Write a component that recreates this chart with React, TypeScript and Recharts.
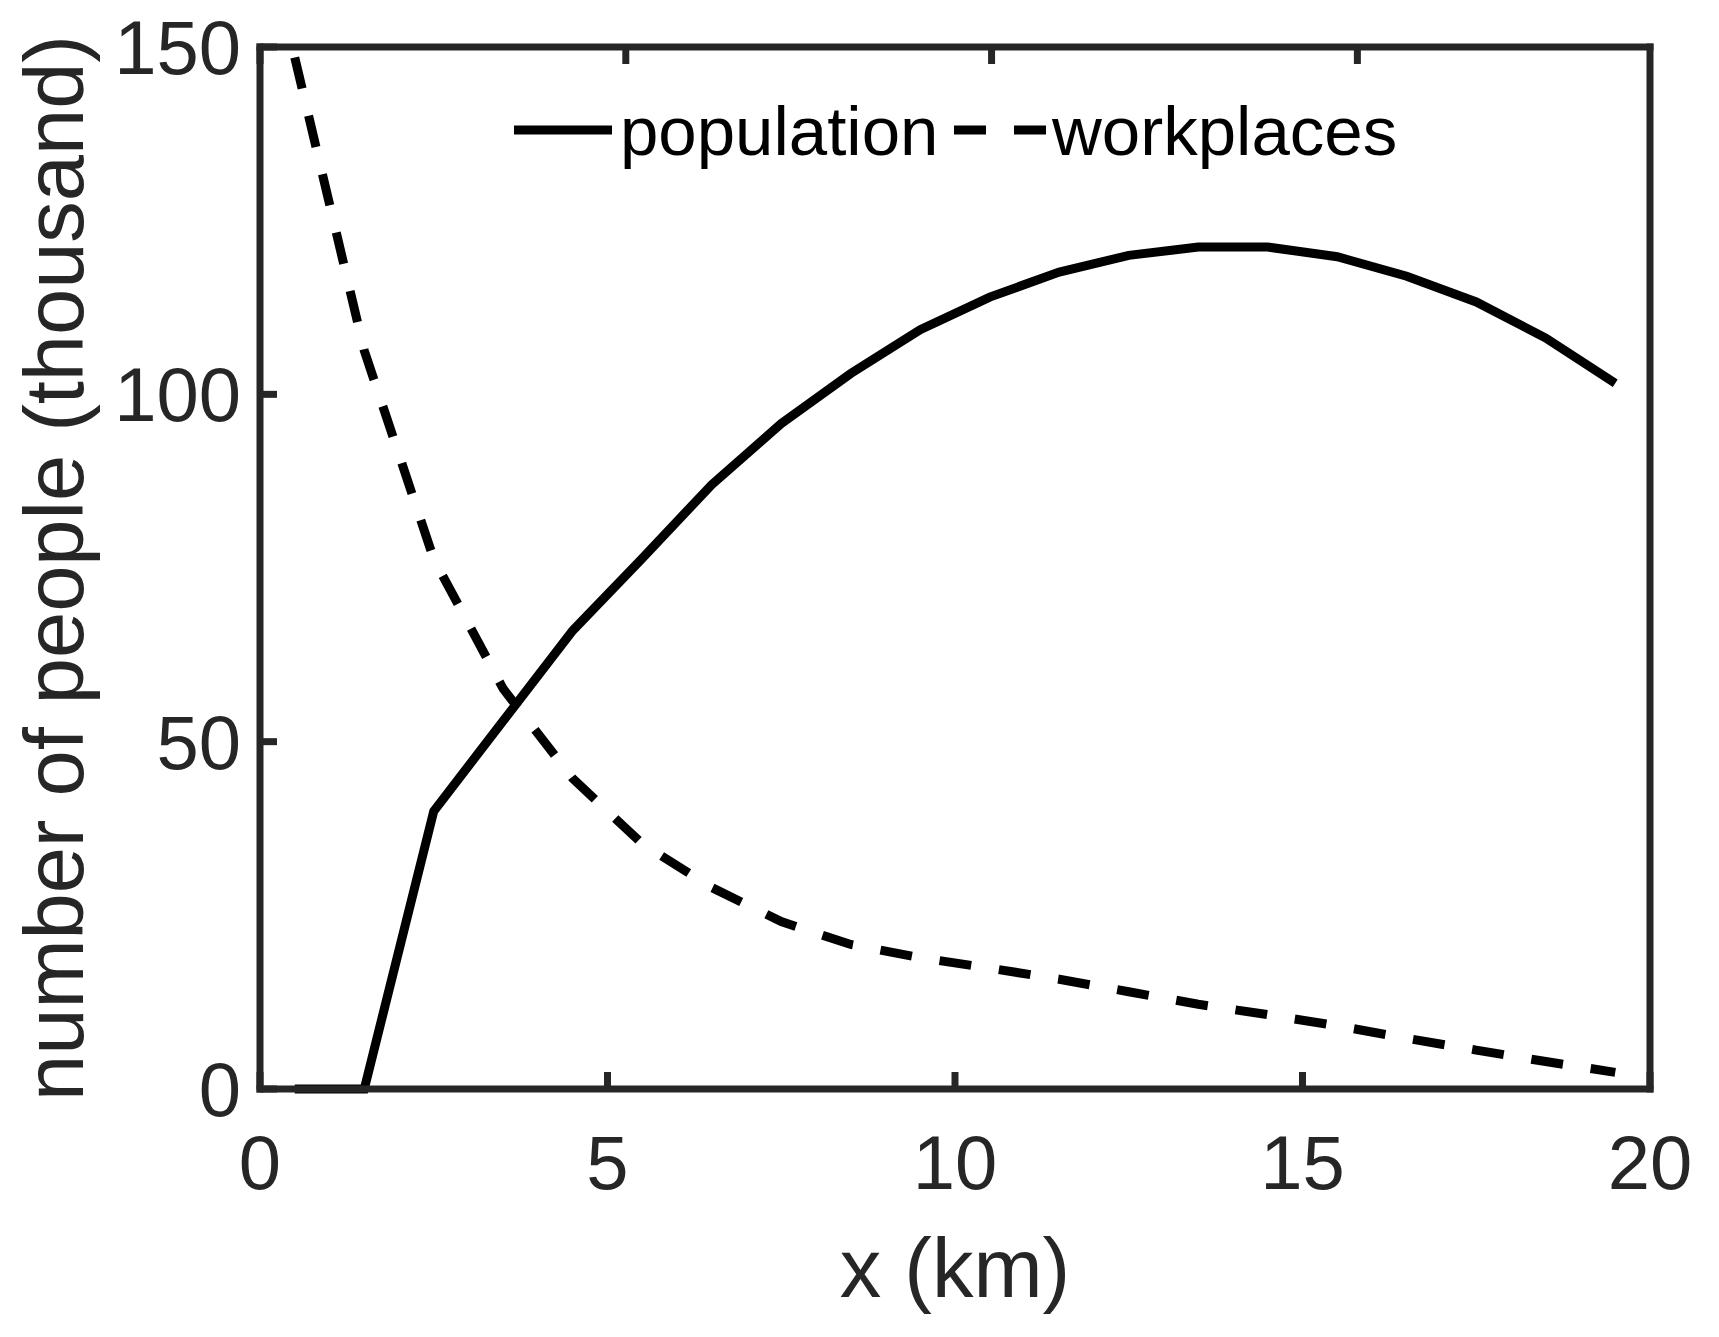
import { LineChart, Line, XAxis, YAxis, Legend } from 'recharts'

// distance from centre (km), one sample per 1 km ring
const xKm = [0.5, 1.5, 2.5, 3.5, 4.5, 5.5, 6.5, 7.5, 8.5, 9.5, 10.5, 11.5, 12.5, 13.5, 14.5, 15.5, 16.5, 17.5, 18.5, 19.5]
// thousands of people
const population = [0, 0, 40, 53, 66, 76.4, 87, 95.8, 103, 109.3, 114, 117.6, 120, 121.2, 121.2, 119.8, 117, 113.3, 108.1, 101.6]
const workplaces = [148.5, 106.3, 76.3, 57.6, 44.7, 35.3, 29, 24.1, 20.8, 18.9, 17.4, 15.8, 14, 12.2, 10.7, 9.1, 7.3, 5.6, 3.95, 2.4]

const xTicks = [0, 5, 10, 15, 20]
const yTicks = [0, 50, 100, 150]

const data = xKm.map((x, i) => ({ x, population: population[i], workplaces: workplaces[i] }))

const FONT = '"Liberation Sans", Arial, Helvetica, sans-serif'
const AXIS = '#262626'
const DASH = '32 28'
const LINE_W = 9

const axisLine = { stroke: AXIS, strokeWidth: 7, strokeLinecap: 'square' as const }
const tickLine = { stroke: AXIS, strokeWidth: 7 }
const tickText = { fill: AXIS, fontSize: 76, fontFamily: FONT }
// mirrored axes: tick marks only, no labels
const noLabel = () => <g />

function YLabel(props: any) {
  const vb = props.viewBox || {}
  const cy = (vb.y ?? 47) + (vb.height ?? 1042) / 2
  const x = 83
  return (
    <text x={x} y={cy} transform={`rotate(-90, ${x}, ${cy})`} textAnchor="middle" fill={AXIS} fontSize={83} fontFamily={FONT}>
      number of people (thousand)
    </text>
  )
}

function XLabel(props: any) {
  const vb = props.viewBox || {}
  const cx = (vb.x ?? 260) + (vb.width ?? 1390) / 2
  return (
    <text x={cx} y={1297} textAnchor="middle" fill={AXIS} fontSize={83} fontFamily={FONT}>
      x (km)
    </text>
  )
}

function LegendBox(props: any) {
  const items = props.payload || []
  const pop = items.find((p: any) => p.dataKey === 'population')
  const wp = items.find((p: any) => p.dataKey === 'workplaces')
  return (
    <svg width={1719} height={200} style={{ display: 'block' }}>
      <line x1={514} x2={612} y1={130} y2={130} stroke="#000" strokeWidth={LINE_W} />
      <text x={620} y={155} fontSize={69} fontFamily={FONT} fill="#000">{pop ? pop.value : 'population'}</text>
      <line x1={954} x2={1046} y1={130} y2={130} stroke="#000" strokeWidth={LINE_W} strokeDasharray={DASH} />
      <text x={1052} y={155} fontSize={69} fontFamily={FONT} fill="#000">{wp ? wp.value : 'workplaces'}</text>
    </svg>
  )
}

export default function App() {
  return (
    <div style={{ position: 'absolute', left: 0, top: 0, background: '#fff', fontFamily: FONT }}>
      <LineChart width={1719} height={1337} data={data} margin={{ top: 46, right: 68, bottom: 0, left: 0 }}>
        <XAxis
          xAxisId="b"
          dataKey="x"
          type="number"
          domain={[0, 20]}
          ticks={xTicks}
          interval={0}
          height={248}
          stroke={AXIS}
          strokeWidth={7}
          axisLine={axisLine}
          tickLine={tickLine}
          tick={tickText}
          tickSize={-17}
          tickMargin={63}
          label={(p: any) => <XLabel {...p} />}
        />
        <XAxis
          xAxisId="t"
          orientation="top"
          type="number"
          domain={[0, 20]}
          ticks={xTicks}
          interval={0}
          height={1}
          stroke={AXIS}
          strokeWidth={7}
          axisLine={axisLine}
          tickLine={tickLine}
          tick={noLabel}
          tickSize={-17}
        />
        <YAxis
          yAxisId="l"
          type="number"
          domain={[0, 150]}
          ticks={yTicks}
          interval={0}
          width={260}
          stroke={AXIS}
          strokeWidth={7}
          axisLine={axisLine}
          tickLine={tickLine}
          tick={tickText}
          tickSize={-17}
          tickMargin={36}
          label={(p: any) => <YLabel {...p} />}
        />
        <YAxis
          yAxisId="r"
          orientation="right"
          type="number"
          domain={[0, 150]}
          ticks={yTicks}
          interval={0}
          width={1}
          stroke={AXIS}
          strokeWidth={7}
          axisLine={axisLine}
          tickLine={tickLine}
          tick={noLabel}
          tickSize={-17}
        />
        <Legend
          verticalAlign="middle"
          align="center"
          layout="horizontal"
          wrapperStyle={{ left: 0, top: 0, width: 1719, height: 200 }}
          content={(p: any) => <LegendBox {...p} />}
        />
        <Line
          xAxisId="b"
          yAxisId="l"
          type="linear"
          dataKey="population"
          name="population"
          stroke="#000"
          strokeWidth={LINE_W}
          dot={false}
          activeDot={false}
          isAnimationActive={false}
        />
        <Line
          xAxisId="b"
          yAxisId="l"
          type="linear"
          dataKey="workplaces"
          name="workplaces"
          stroke="#000"
          strokeWidth={LINE_W}
          strokeDasharray={DASH}
          dot={false}
          activeDot={false}
          isAnimationActive={false}
        />
      </LineChart>
    </div>
  )
}
